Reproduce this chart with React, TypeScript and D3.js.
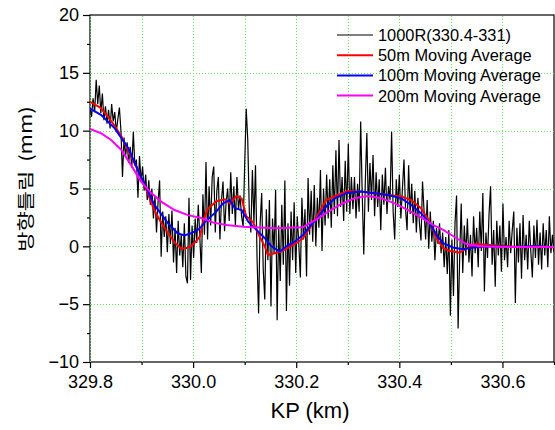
import React, { useRef, useEffect } from 'react'
import * as d3 from 'd3'

// raw measurement, sampled every 3 m from KP 329.800
const rawStart = 329.8
const rawStep = 0.003
const rawMm = [
  12.0, 11.2, 12.8, 11.6, 14.4, 12.3, 13.9, 11.5, 13.2, 10.9,
  12.1, 10.6, 11.8, 10.2, 12.3, 10.8, 11.6, 9.9, 11.0, 12.0,
  10.0, 6.0, 9.4, 7.8, 9.0, 7.2, 8.6, 6.8, 9.9, 7.0,
  7.5, 4.2, 7.8, 5.6, 6.9, 4.8, 6.2, 4.0, 5.7, 3.6,
  5.0, 2.4, 4.3, 1.2, 3.8, 5.7, -0.9, 3.0, 0.8, 2.6,
  -0.5, 2.8, 0.2, 3.1, -1.4, 1.6, -2.3, 2.2, -0.8, 1.0,
  -1.8, 2.0, -2.6, -3.2, 4.2, -2.9, 1.8, -1.0, 2.4, 0.3,
  3.6, 0.8, -2.3, 4.5, 1.0, 7.3, 0.6, 5.2, 1.8, 6.0,
  6.9, 1.2, 4.8, 6.0, 0.6, 4.0, 5.6, 1.3, 3.8, 5.0,
  2.2, 6.4, 2.8, 5.2, 1.8, 6.0, 3.2, 4.4, 2.6, 1.7,
  7.0, 11.9, 9.2, 3.0, 1.2, 6.6, 2.0, 7.0, -1.0, -5.8,
  2.0, 4.6, -2.0, -4.6, 3.2, -1.2, 4.0, -5.2, 2.4, -0.6,
  4.9, -6.4, 1.8, -3.0, 3.6, -1.6, 5.7, -5.6, 2.0, -3.4,
  3.0, -1.2, 3.8, -2.3, 2.6, 0.2, -2.7, 4.2, 0.6, 3.2,
  -2.6, 5.9, 1.0, 4.8, 0.4, 5.3, 0.0, 4.2, 1.6, 6.6,
  -0.4, 5.0, 1.8, 6.2, 2.4, 5.8, 1.6, 7.0, 2.8, 8.3,
  2.6, 9.2, 3.4, 6.0, 2.2, 7.4, 3.0, 8.9, 2.8, 6.0,
  3.2, 6.0, 2.4, 5.4, 3.0, 10.8, 4.6, -0.7, 5.6, 9.8,
  3.0, 7.2, 4.0, 7.9, 2.6, 6.4, 3.4, 5.8, 1.4, 6.2,
  3.6, 6.8, 2.8, 5.2, 4.0, 9.9, 3.0, 0.6, 5.8, 3.4,
  6.2, 2.4, 5.0, 7.5, 3.2, 1.4, 7.0, 2.8, 5.4, 2.0,
  4.8, 1.2, 4.2, 2.0, 0.5, 5.6, 3.0, 0.6, 4.0, -0.2,
  3.0, 0.4, 2.2, -1.2, 1.6, 0.2, 2.0, -0.6, 1.2, -1.8,
  0.8, -2.4, 1.4, -6.0, 0.6, -4.3, 2.0, 4.4, -7.1, -1.0,
  3.7, -2.3, 1.8, -0.8, 2.4, -1.4, 1.0, -2.6, 2.6, -0.6,
  1.6, -1.8, 3.0, -0.4, 4.6, -3.9, 1.2, -1.0, 2.8, 5.2,
  -1.6, 1.4, -3.5, 2.2, -0.8, 1.8, -2.2, 3.7, -1.2, 0.8,
  -1.8, 2.2, -0.6, 1.4, 3.0, -4.9, 1.6, -1.4, 2.0, -2.8,
  2.7, -1.2, 1.0, -2.0, 2.2, -0.4, -2.7, 1.8, -1.0, 2.3,
  -1.6, 1.2, -2.0, 2.0, -0.8, 1.4, -1.8, 2.6, -0.6, 1.0,
  -0.5,
]

const ma50Kp = [
  329.8, 329.82, 329.835, 329.848, 329.861, 329.877, 329.893, 329.91, 329.925, 329.94,
  329.951, 329.965, 329.977, 329.987, 329.996, 330.005, 330.013, 330.02, 330.028, 330.045,
  330.062, 330.072, 330.084, 330.094, 330.103, 330.116, 330.129, 330.139, 330.145, 330.158,
  330.171, 330.181, 330.2, 330.213, 330.23, 330.242, 330.258, 330.281, 330.3, 330.326,
  330.352, 330.378, 330.404, 330.423, 330.442, 330.459, 330.472, 330.485, 330.498, 330.517,
  330.53, 330.549, 330.575, 330.6, 330.64, 330.665, 330.7,
]
const ma50Mm = [
  12.5, 12.0, 11.2, 10.4, 9.5, 8.0, 6.6, 4.8, 3.1, 1.9,
  1.15, 0.3, -0.2, -0.15, 0.0, 0.4, 0.85, 2.2, 3.2, 3.9,
  4.07, 3.7, 4.36, 4.15, 2.6, 2.1, 0.85, 0.0, -0.75, -0.6,
  -0.45, -0.2, 0.27, 0.7, 1.85, 2.75, 4.0, 4.44, 4.79, 4.73,
  4.59, 4.44, 4.3, 4.0, 3.3, 2.1, 0.7, -0.17, -0.4, -0.54,
  -0.17, 0.2, 0.12, 0.03, -0.08, 0.0, -0.1,
]

const ma100Kp = [
  329.8, 329.822, 329.848, 329.874, 329.899, 329.925, 329.951, 329.97, 329.983, 329.996,
  330.012, 330.025, 330.045, 330.058, 330.071, 330.081, 330.094, 330.107, 330.123, 330.139,
  330.152, 330.168, 330.181, 330.197, 330.213, 330.229, 330.242, 330.255, 330.275, 330.3,
  330.326, 330.352, 330.378, 330.404, 330.423, 330.442, 330.459, 330.472, 330.485, 330.504,
  330.523, 330.543, 330.575, 330.62, 330.66, 330.7,
]
const ma100Mm = [
  11.9, 11.35, 10.2, 8.5, 6.0, 3.58, 2.0, 1.13, 0.95, 1.13,
  1.5, 2.2, 3.0, 3.72, 4.0, 3.3, 3.14, 2.13, 1.42, 0.7,
  0.0, -0.45, 0.0, 0.4, 0.98, 1.85, 2.5, 3.3, 4.15, 4.64,
  4.73, 4.59, 4.44, 4.15, 3.58, 2.86, 2.0, 0.98, 0.27, -0.1,
  -0.25, -0.1, 0.0, -0.05, 0.0, -0.05,
]

const ma200Kp = [
  329.8, 329.822, 329.841, 329.861, 329.88, 329.899, 329.919, 329.938, 329.964, 329.99,
  330.016, 330.039, 330.065, 330.097, 330.129, 330.162, 330.194, 330.213, 330.226, 330.242,
  330.262, 330.288, 330.313, 330.339, 330.365, 330.391, 330.417, 330.442, 330.465, 330.485,
  330.511, 330.53, 330.556, 330.6, 330.65, 330.7,
]
const ma200Mm = [
  10.15, 9.77, 9.2, 8.33, 7.0, 5.6, 4.6, 3.87, 3.14, 2.7,
  2.45, 2.05, 1.85, 1.7, 1.62, 1.56, 1.62, 1.65, 2.0, 2.4,
  3.0, 3.66, 4.15, 4.36, 4.15, 3.72, 3.14, 2.5, 1.85, 1.42,
  0.7, 0.2, 0.0, -0.05, -0.05, -0.05,
]

const xTicks = [329.8, 330.0, 330.2, 330.4, 330.6]
const xMinorTicks = [329.9, 330.1, 330.3, 330.5, 330.7]
const xGrid = [329.8, 329.9, 330.0, 330.1, 330.2, 330.3, 330.4, 330.5, 330.6]
const yTicks = [-10, -5, 0, 5, 10, 15, 20]
const yMinorTicks = [-7.5, -2.5, 2.5, 7.5, 12.5, 17.5]
const yGrid = [-5, 0, 5, 10, 15]
const legendLabels = ['1000R(330.4-331)', '50m Moving Average', '100m Moving Average', '200m Moving Average']
const seriesColors = ['#000000', '#ff0000', '#0000ff', '#ff00ff']

const font = '"Liberation Sans", Arial, sans-serif'

export default function App() {
  const canvas = useRef<SVGSVGElement>(null)

  const W = 555
  const H = 430
  const plot = { left: 90, right: 554, top: 15, bottom: 362 }

  useEffect(() => {
    const svg = d3.select(canvas.current)
    svg.selectAll('*').remove()

    const x = d3.scaleLinear().domain([329.8, 330.7]).range([plot.left, plot.right])
    const y = d3.scaleLinear().domain([-10, 20]).range([plot.bottom, plot.top])

    svg.append('rect').attr('width', W).attr('height', H).attr('fill', '#fff')

    svg.append('clipPath').attr('id', 'plotclip')
      .append('rect')
      .attr('x', plot.left).attr('y', plot.top)
      .attr('width', plot.right - plot.left).attr('height', plot.bottom - plot.top)

    // frame + axes first, grid dots drawn over the left spine like the original
    svg.append('rect')
      .attr('x', plot.left).attr('y', plot.top)
      .attr('width', plot.right - plot.left).attr('height', plot.bottom - plot.top)
      .attr('fill', 'none').attr('stroke', '#000').attr('stroke-width', 1.2)

    const grid = svg.append('g').attr('stroke', '#5fe85f').attr('stroke-width', 1)
      .attr('stroke-dasharray', '1,2').attr('shape-rendering', 'crispEdges')
    xGrid.forEach(k => {
      grid.append('line').attr('x1', Math.round(x(k)) + 0.5).attr('x2', Math.round(x(k)) + 0.5)
        .attr('y1', plot.top + 1).attr('y2', plot.bottom)
    })
    yGrid.forEach(v => {
      grid.append('line').attr('y1', Math.round(y(v)) + 0.5).attr('y2', Math.round(y(v)) + 0.5)
        .attr('x1', plot.left + 1).attr('x2', plot.right)
    })

    // series
    const lineXY = d3.line<[number, number]>().x(d => x(d[0])).y(d => y(d[1]))
    const rawPts: [number, number][] = rawMm.map((v, i) => [rawStart + i * rawStep, v])
    const zipPts = (k: number[], v: number[]) => k.map((kk, i) => [kk, v[i]] as [number, number])

    const dataG = svg.append('g').attr('clip-path', 'url(#plotclip)').attr('fill', 'none')
    dataG.append('path').attr('d', lineXY(rawPts)).attr('stroke', seriesColors[0]).attr('stroke-width', 1.2)
    dataG.append('path').attr('d', lineXY(zipPts(ma50Kp, ma50Mm))).attr('stroke', seriesColors[1]).attr('stroke-width', 2)
    dataG.append('path').attr('d', lineXY(zipPts(ma100Kp, ma100Mm))).attr('stroke', seriesColors[2]).attr('stroke-width', 2)
    dataG.append('path').attr('d', lineXY(zipPts(ma200Kp, ma200Mm))).attr('stroke', seriesColors[3]).attr('stroke-width', 2)

    // axes
    const xAxis = svg.append('g').attr('transform', `translate(0,${plot.bottom})`)
      .call(d3.axisBottom(x).tickValues(xTicks).tickSize(6).tickPadding(7).tickFormat(d3.format('.1f')))
    svg.append('g').attr('transform', `translate(0,${plot.bottom})`)
      .call(d3.axisBottom(x).tickValues(xMinorTicks).tickSize(3).tickFormat(() => ''))
    const yAxis = svg.append('g').attr('transform', `translate(${plot.left},0)`)
      .call(d3.axisLeft(y).tickValues(yTicks).tickSize(7).tickPadding(4))
    svg.append('g').attr('transform', `translate(${plot.left},0)`)
      .call(d3.axisLeft(y).tickValues(yMinorTicks).tickSize(3).tickFormat(() => ''))

    svg.selectAll('.domain').remove()
    svg.selectAll('.tick line').attr('stroke', '#000').attr('stroke-width', 1.2)
    ;[xAxis, yAxis].forEach(a => a.selectAll('text').attr('font-family', font).attr('font-size', 18).attr('fill', '#000'))

    // titles
    svg.append('text').attr('x', 310).attr('y', 418).attr('text-anchor', 'middle')
      .attr('font-family', font).attr('font-size', 22).text('KP (km)')
    const yt = svg.append('text').attr('transform', 'translate(32,179) rotate(-90) scale(1,0.8)')
      .attr('text-anchor', 'middle')
      .attr('font-family', '"Noto Sans CJK KR", "Liberation Sans", sans-serif').attr('font-size', 22)
    yt.append('tspan').text('방향틀림')
    yt.append('tspan').attr('dx', 9).text('(mm)')

    // legend
    const leg = svg.append('g')
    legendLabels.forEach((lab, i) => {
      const cy = 35 + i * 20.2
      leg.append('line').attr('x1', 337).attr('x2', 373).attr('y1', cy).attr('y2', cy)
        .attr('stroke', seriesColors[i]).attr('stroke-width', i === 0 ? 1 : 2)
      leg.append('text').attr('x', 378).attr('y', cy + 6).attr('font-family', font).attr('font-size', 16.4)
        .attr('fill', '#000').text(lab)
    })
  }, [])

  return (
    <svg ref={canvas} width={W} height={H} style={{ position: 'absolute', left: 0, top: 0 }} />
  )
}
